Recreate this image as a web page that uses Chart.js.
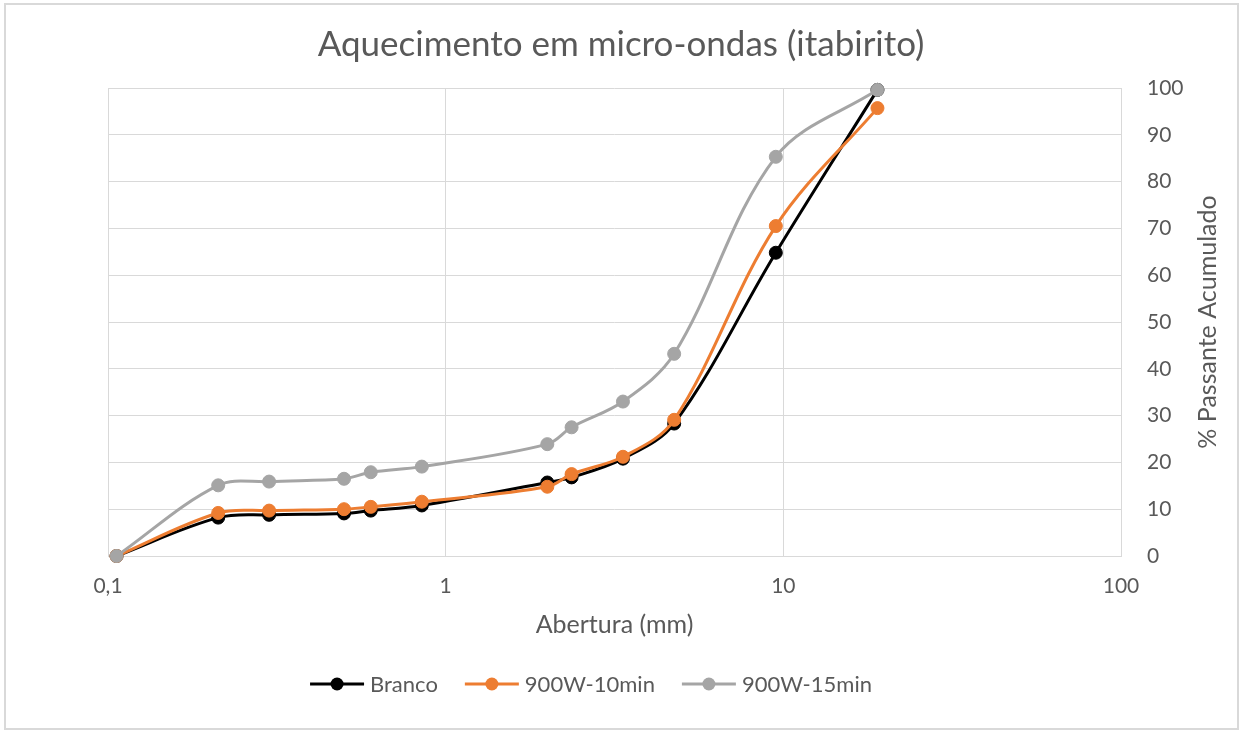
<!DOCTYPE html>
<html>
<head>
<meta charset="utf-8">
<script src="https://cdn.jsdelivr.net/npm/chart.js@4/dist/chart.umd.min.js"></script>
<style>
  html, body { margin: 0; padding: 0; background: #ffffff; }
  #wrap { width: 1244px; height: 731px; position: relative; }
</style>
</head>
<body>
<div id="wrap"><canvas id="c" width="1244" height="731"></canvas></div>
<script>
// Sieve openings (mm) and cumulative passing (%) per treatment
const aberturas = [0.106, 0.212, 0.3, 0.5, 0.6, 0.85, 2.0, 2.36, 3.35, 4.75, 9.5, 19];
const branco    = [0, 8.2, 8.8, 9.1, 9.7, 10.8, 15.7, 16.8, 20.8, 28.3, 64.8, 99.6];
const w900_10   = [0, 9.2, 9.7, 10.0, 10.5, 11.6, 14.8, 17.5, 21.2, 29.1, 70.5, 95.7];
const w900_15   = [0, 15.1, 15.9, 16.5, 17.9, 19.1, 23.9, 27.5, 33.0, 43.2, 85.3, 99.6];

const seriesNames  = ['Branco', '900W-10min', '900W-15min'];
const seriesColors = ['#000000', '#ED7D31', '#A5A5A5'];

const xTickValues = [0.1, 1, 10, 100];
const xTickLabels = ['0,1', '1', '10', '100'];

const chartTitle = 'Aquecimento em micro-ondas (itabirito)';
const xTitle = 'Abertura (mm)';
const yTitle = '% Passante Acumulado';

const FONT = 'Lato, "Open Sans", sans-serif';
const TEXT = '#595959';
const GRID = '#d9d9d9';

const toPoints = ys => aberturas.map((x, i) => ({ x: x, y: ys[i] }));
const seriesValues = [branco, w900_10, w900_15];

const datasets = seriesValues.map((ys, i) => ({
  label: seriesNames[i],
  data: toPoints(ys),
  borderColor: seriesColors[i],
  backgroundColor: seriesColors[i],
  pointBackgroundColor: seriesColors[i],
  pointBorderColor: seriesColors[i],
  borderWidth: 3,
  pointRadius: 6.5,
  pointBorderWidth: 1,
  tension: 0.35,
  clip: false,
  order: 3 - i
}));

// Page frame, titles and legend drawn around the plot
const decorations = {
  id: 'decorations',
  beforeDraw(chart) {
    const ctx = chart.ctx;
    ctx.save();
    ctx.fillStyle = '#ffffff';
    ctx.fillRect(0, 0, chart.width, chart.height);
    ctx.strokeStyle = GRID;
    ctx.lineWidth = 2;
    ctx.strokeRect(5, 4, 1233, 725);
    ctx.restore();
  },
  afterDraw(chart) {
    const ctx = chart.ctx;
    const area = chart.chartArea;
    ctx.save();
    ctx.fillStyle = TEXT;
    ctx.textAlign = 'center';
    ctx.textBaseline = 'middle';

    ctx.font = '35px ' + FONT;
    ctx.fillText(chartTitle, 621, 45);

    ctx.font = '25px ' + FONT;
    ctx.fillText(xTitle, (area.left + area.right) / 2, 625);

    ctx.save();
    ctx.translate(1208, (area.top + area.bottom) / 2);
    ctx.rotate(-Math.PI / 2);
    ctx.fillText(yTitle, 0, 0);
    ctx.restore();

    // legend: line + marker + label for each series
    ctx.font = '22px ' + FONT;
    const lineLen = 54, gapText = 6, gapItem = 27, ly = 684;
    const widths = seriesNames.map(n => lineLen + gapText + ctx.measureText(n).width);
    const total = widths.reduce((a, b) => a + b, 0) + gapItem * (widths.length - 1);
    let x = 591 - total / 2;
    seriesNames.forEach((name, i) => {
      ctx.strokeStyle = seriesColors[i];
      ctx.lineWidth = 3;
      ctx.beginPath();
      ctx.moveTo(x, ly);
      ctx.lineTo(x + lineLen, ly);
      ctx.stroke();
      ctx.fillStyle = seriesColors[i];
      ctx.beginPath();
      ctx.arc(x + lineLen / 2, ly, 6.5, 0, Math.PI * 2);
      ctx.fill();
      ctx.fillStyle = TEXT;
      ctx.textAlign = 'left';
      ctx.fillText(name, x + lineLen + gapText, ly + 1);
      x += widths[i] + gapItem;
    });
    ctx.restore();
  }
};

new Chart(document.getElementById('c'), {
  type: 'line',
  data: { datasets: datasets },
  plugins: [decorations],
  options: {
    responsive: false,
    animation: false,
    events: [],
    layout: { padding: { left: 108, top: 88, right: 0, bottom: 0 } },
    plugins: {
      legend: { display: false },
      title: { display: false },
      tooltip: { enabled: false }
    },
    scales: {
      x: {
        type: 'logarithmic',
        min: 0.1,
        max: 100,
        afterBuildTicks: s => { s.ticks = xTickValues.map(v => ({ value: v })); },
        afterFit: s => { s.height = 175; },
        grid: { color: GRID, lineWidth: 1, drawTicks: false },
        border: { color: GRID, width: 1 },
        ticks: {
          padding: 18,
          color: TEXT,
          font: { family: FONT, size: 21 },
          maxRotation: 0,
          autoSkip: false,
          callback: v => xTickLabels[xTickValues.indexOf(v)]
        }
      },
      y: {
        position: 'right',
        min: 0,
        max: 100,
        afterFit: s => { s.width = 123; },
        grid: { color: GRID, lineWidth: 1, drawTicks: false },
        border: { color: GRID, width: 1 },
        ticks: {
          stepSize: 10,
          padding: 26,
          color: TEXT,
          font: { family: FONT, size: 21 }
        }
      }
    }
  }
});
</script>
</body>
</html>
